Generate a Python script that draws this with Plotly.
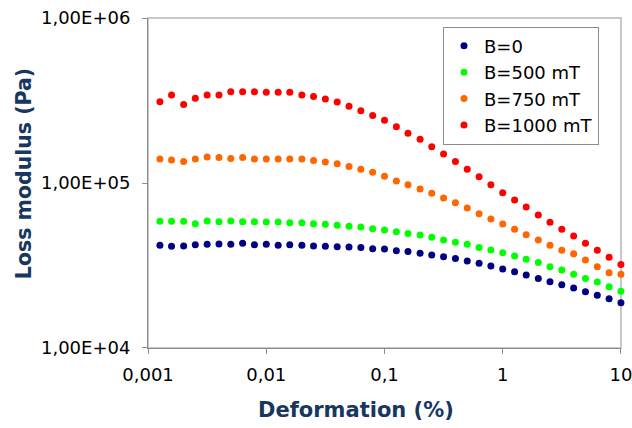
import plotly.graph_objects as go

# Deformation (%) – 10 points per decade
deformation = [0.00126, 0.00158, 0.002, 0.00251, 0.00316, 0.00398, 0.00501, 0.00631, 0.00794, 0.01,
               0.0126, 0.0158, 0.02, 0.0251, 0.0316, 0.0398, 0.0501, 0.0631, 0.0794, 0.1,
               0.126, 0.158, 0.2, 0.251, 0.316, 0.398, 0.501, 0.631, 0.794, 1.0,
               1.26, 1.58, 2.0, 2.51, 3.16, 3.98, 5.01, 6.31, 7.94, 10.0]

b0 = [41900, 41300, 41500, 42300, 42500, 42700, 42500, 43200, 42300, 42500,
      41900, 42300, 41900, 41500, 41300, 41100, 40900, 40600, 40000, 39800,
      38900, 38400, 37500, 36600, 35700, 34800, 33700, 32600, 31400, 30100,
      29000, 27700, 26400, 25200, 24200, 23100, 21900, 20900, 19900, 18800]

b500 = [58600, 58600, 58600, 56600, 58900, 58200, 58900, 58200, 58200, 58100,
        58100, 57400, 57400, 56600, 56200, 55500, 54700, 54100, 52800, 51900,
        50700, 49500, 48400, 46900, 45200, 43800, 42500, 40700, 39300, 37800,
        36100, 34500, 33000, 31100, 29700, 28000, 26400, 25100, 23500, 22100]

b750 = [140000, 138000, 135000, 140000, 144000, 143000, 141000, 143000, 140000, 140000,
        140000, 140000, 140000, 137000, 134000, 131000, 126000, 121000, 116000, 110000,
        103000, 97700, 92000, 86700, 81100, 76000, 70500, 65200, 60500, 56500,
        52400, 48600, 45200, 41900, 39100, 37200, 34100, 31100, 28600, 28000]

b1000 = [311000, 341000, 299000, 326000, 341000, 341000, 357000, 357000, 357000, 355000,
         355000, 355000, 341000, 335000, 323000, 310000, 292000, 274000, 257000, 240000,
         219000, 200000, 184000, 166000, 150000, 135000, 121000, 109000, 97700, 87300,
         78900, 71600, 64000, 57800, 52500, 47800, 43200, 39100, 35500, 32100]

series_names = ["B=0", "B=500 mT", "B=750 mT", "B=1000 mT"]
series_values = [b0, b500, b750, b1000]
series_colors = ["#000080", "#00FF00", "#FF6600", "#FF0000"]

x_tickvals = [0.001, 0.01, 0.1, 1, 10]
x_ticktext = ["0,001", "0,01", "0,1", "1", "10"]
y_tickvals = [1e4, 1e5, 1e6]
y_ticktext = ["1,00E+04", "1,00E+05", "1,00E+06"]

FONT = "DejaVu Sans, Verdana, sans-serif"
TITLE_COLOR = "#17375E"

fig = go.Figure()
for name, vals, col in zip(series_names, series_values, series_colors):
    fig.add_trace(go.Scatter(
        x=deformation, y=vals, name=name, mode="markers",
        marker=dict(color=col, size=7, line=dict(width=0)),
        cliponaxis=False,
    ))

fig.update_layout(
    width=632, height=428,
    margin=dict(l=148, r=11, t=18, b=80, autoexpand=False),
    paper_bgcolor="white", plot_bgcolor="white",
    font=dict(family=FONT, size=18, color="#000000"),
    showlegend=True,
    legend=dict(
        x=0.9535, y=0.974, xanchor="right", yanchor="top",
        bgcolor="white", bordercolor="#8c8c8c", borderwidth=1,
        font=dict(family=FONT, size=18, color="#000000"),
        tracegroupgap=0,
    ),
)

fig.update_xaxes(
    type="log", range=[-3.0005, 1.0005],
    tickvals=x_tickvals, ticktext=x_ticktext,
    ticks="outside", ticklen=5, tickcolor="#8c8c8c", tickwidth=1,
    showline=True, linecolor="#8c8c8c", linewidth=1,
    showgrid=False, zeroline=False, automargin=False,
    tickfont=dict(family=FONT, size=18, color="#000000"),
    ticklabelstandoff=5, ticklabeloverflow="allow",
)
fig.update_yaxes(
    type="log", range=[3.9997, 6.0003],
    tickvals=y_tickvals, ticktext=y_ticktext,
    ticks="outside", ticklen=5, tickcolor="#8c8c8c", tickwidth=1,
    showline=True, linecolor="#8c8c8c", linewidth=1,
    showgrid=False, zeroline=False, automargin=False,
    tickfont=dict(family=FONT, size=18, color="#000000"),
    ticklabelstandoff=8, ticklabeloverflow="allow",
)

# plot-area frame (light grey top and right)
fig.add_shape(type="rect", xref="paper", yref="paper", x0=0, x1=1, y0=0, y1=1,
              line=dict(color="#c8c8c8", width=2), layer="below")

# axis titles
fig.add_annotation(text="<b>Deformation (%)</b>", xref="paper", yref="paper",
                   x=0.44, y=-0.188, xanchor="center", yanchor="middle",
                   showarrow=False, font=dict(family=FONT, size=21, color=TITLE_COLOR))
fig.add_annotation(text="<b>Loss modulus (Pa)</b>", xref="paper", yref="paper",
                   x=-0.262, y=0.527, xanchor="center", yanchor="middle", textangle=-90,
                   showarrow=False, font=dict(family=FONT, size=20.5, color=TITLE_COLOR))

fig.write_html("out.html")
